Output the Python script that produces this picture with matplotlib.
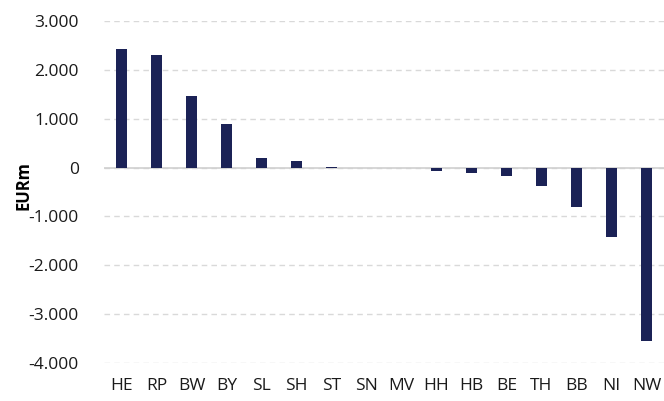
import matplotlib
matplotlib.use("Agg")
import matplotlib.pyplot as plt
from matplotlib.ticker import FuncFormatter

# state budget balance, EURm
states = ["HE", "RP", "BW", "BY", "SL", "SH", "ST", "SN",
          "MV", "HH", "HB", "BE", "TH", "BB", "NI", "NW"]
values = [2420, 2300, 1455, 887, 190, 130, 12, 0,
          0, -60, -110, -175, -385, -800, -1425, -3540]

bar_color = "#1b2256"
grid_color = "#d9d9d9"

plt.rcParams["font.family"] = ["Open Sans", "DejaVu Sans"]

fig = plt.figure(figsize=(6.64, 4.01), dpi=100)
ax = fig.add_axes([0.1566, 0.0948, 0.8434, 0.8528])

ax.bar(range(len(states)), values, width=0.34, color=bar_color,
       linewidth=0, zorder=3)

ax.set_xlim(-0.5, len(states) - 0.5)
ax.set_ylim(-4000, 3000)
ax.set_yticks(range(-4000, 3001, 1000))
ax.yaxis.set_major_formatter(
    FuncFormatter(lambda v, _: f"{int(v):,}".replace(",", ".")))
ax.set_xticks(range(len(states)))
ax.set_xticklabels(states)

ax.grid(axis="y", color=grid_color, linestyle=(0, (4, 3)), linewidth=1, zorder=0)
ax.axhline(0, color="#d0d0d0", linewidth=1.2, zorder=2)
for s in ax.spines.values():
    s.set_visible(False)
ax.tick_params(length=0, labelsize=12.5, colors="#1a1a1a")
ax.tick_params(axis="y", pad=18)
ax.tick_params(axis="x", pad=11)

ax.set_ylabel("EURm", fontsize=12, fontweight="bold")
ax.yaxis.set_label_coords(-0.128, 0.52)

fig.savefig("out.png", dpi=100)
